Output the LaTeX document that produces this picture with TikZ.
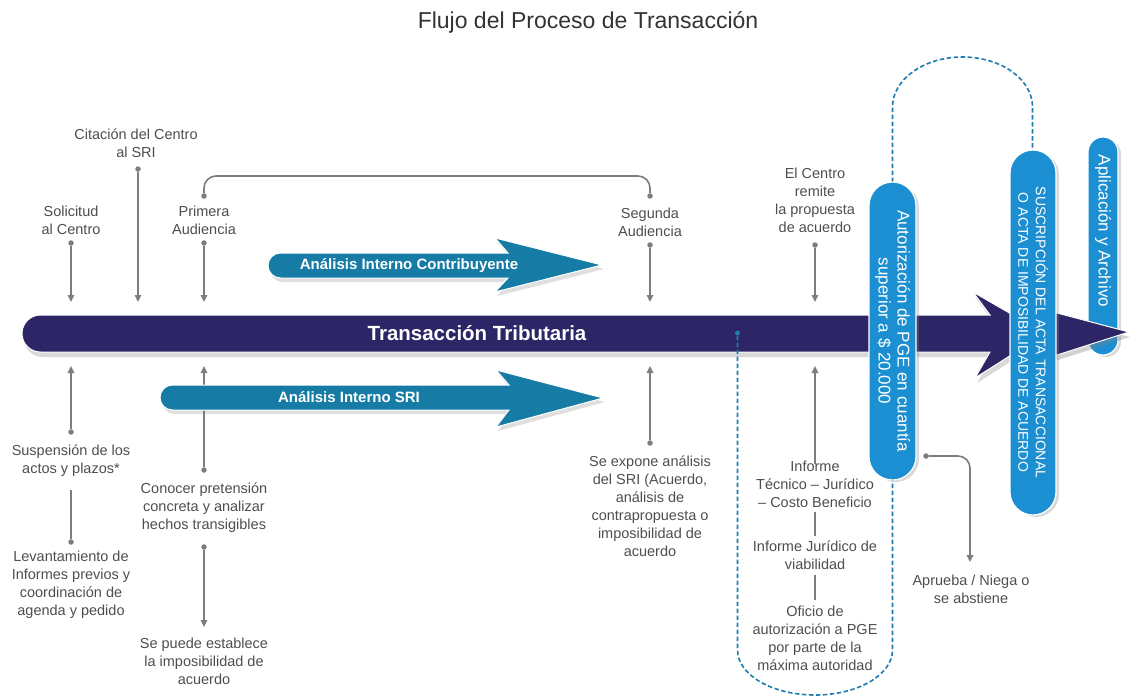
\documentclass[tikz,border=0pt]{standalone}
\usepackage{fontspec}
\setmainfont{Liberation Sans}
\usetikzlibrary{arrows.meta,shadows,shapes.misc}
\definecolor{cNavy}{RGB}{45,38,102}
\definecolor{cTeal}{RGB}{22,124,165}
\definecolor{cPill}{RGB}{27,143,210}
\definecolor{cLine}{RGB}{125,125,125}
\definecolor{cText}{RGB}{78,78,78}
\definecolor{cDash}{RGB}{30,125,175}
\begin{document}
\begin{tikzpicture}[x=1pt,y=1pt,
  lbl/.style={font=\fontsize{14.5}{18}\selectfont, text=cText, align=center, inner sep=0pt},
  conn/.style={draw=cLine, line width=1.6pt},
  arr/.style={conn, -{Triangle[length=7pt,width=6.5pt]}},
  dotc/.style={fill=cLine, circle, inner sep=0pt, minimum size=5.5pt},
  pillbase/.style={rounded rectangle, fill=cPill, draw=white, line width=1.2pt, text=white, inner sep=0pt, rotate=-90,
     drop shadow={opacity=0.3, shadow xshift=3pt, shadow yshift=-2pt}},
  pill/.style={pillbase, align=center},
  bandarrow/.style={fill=cTeal, draw=white, line width=1pt, drop shadow={opacity=0.25, shadow xshift=2pt, shadow yshift=-4pt}},
  bandlbl/.style={font=\bfseries\fontsize{15}{17}\selectfont, text=white, inner sep=0pt},
  dashl/.style={draw=cDash, line width=1.6pt, dash pattern=on 4.5pt off 2.5pt}]

\useasboundingbox (0,0) rectangle (1129,-699);

% title
\node[font=\fontsize{23}{26}\selectfont, text=black!80] (title) at (588,-22) {Flujo del Proceso de Transacción};

% ---------- upper labels ----------
\node[lbl] (solic) at (71,-220) {Solicitud\\al Centro};
\node[lbl] (cita) at (136,-143) {Citación del Centro\\al SRI};
\node[lbl] (prim) at (204,-220) {Primera\\Audiencia};
\node[lbl] (segu) at (650,-222) {Segunda\\Audiencia};
\node[lbl] (remite) at (815,-200) {El Centro\\remite\\la propuesta\\de acuerdo};

\node[dotc] (dsol) at (71,-243) {};
\node[dotc] (dcit) at (138,-169) {};
\node[dotc] (dpri) at (204,-243) {};
\node[dotc] (dpri2) at (204,-196) {};
\node[dotc] (dseg) at (650,-245) {};
\node[dotc] (dseg2) at (650,-196) {};
\node[dotc] (drem) at (815,-245) {};

\coordinate (esol) at (71,-302);
\coordinate (ecit) at (138,-302);
\coordinate (epri) at (204,-302);
\coordinate (eseg) at (650,-302);
\coordinate (erem) at (815,-302);

\draw[arr] (dsol) -- (esol);
\draw[arr] (dcit) -- (ecit);
\draw[arr] (dpri) -- (epri);
\draw[arr] (dseg) -- (eseg);
\draw[arr] (drem) -- (erem);
\draw[conn, rounded corners=12pt] (dpri2) -- ++(0,20) -| (dseg2);

% ---------- lower labels ----------
\node[lbl] (susp) at (71,-461) {Suspensión de los\\actos y plazos*};
\node[lbl] (levan) at (71,-585) {Levantamiento de\\Informes previos y\\coordinación de\\agenda y pedido};
\node[lbl] (conoc) at (204,-508) {Conocer pretensión\\concreta y analizar\\hechos transigibles};
\node[lbl] (puede) at (204,-661) {Se puede establece\\la imposibilidad de\\acuerdo};
\node[lbl] (expone) at (650,-506) {Se expone análisis\\del SRI (Acuerdo,\\análisis de\\contrapropuesta o\\imposibilidad de\\acuerdo};
\node[lbl] (inf1) at (815,-484) {Informe\\Técnico – Jurídico\\– Costo Beneficio};
\node[lbl] (inf2) at (815,-555) {Informe Jurídico de\\viabilidad};
\node[lbl] (ofic) at (815,-638) {Oficio de\\autorización a PGE\\por parte de la\\máxima autoridad};
\node[lbl] (aprueba) at (971,-589) {Aprueba / Niega o\\se abstiene};

\node[dotc] (dsus) at (71,-432) {};
\node[dotc] (dlev) at (71,-542) {};
\node[dotc] (dcon) at (204,-470) {};
\node[dotc] (dpue) at (204,-547) {};
\node[dotc] (dexp) at (650,-443) {};
\node[dotc] (dapr) at (926,-456) {};

\coordinate (esus) at (71,-366);
\coordinate (econ) at (204,-366);
\coordinate (epue) at (204,-627);
\coordinate (eexp) at (650,-366);
\coordinate (einf) at (815,-366);
\coordinate (eapr) at (970,-562);

\draw[arr] (dsus) -- (esus);
\draw[conn] ([yshift=-13pt]susp.south) -- (dlev);
\draw[arr] (dcon) -- (econ);
\draw[arr] (dpue) -- (epue);
\draw[arr] (dexp) -- (eexp);
\draw[arr] ([yshift=-4pt]inf1.north) -- (einf);
\draw[conn, shorten <=4pt, shorten >=4pt] (inf1.south) -- (inf2.north);
\draw[conn, shorten <=5pt, shorten >=5pt] (inf2.south) -- (ofic.north);
\draw[arr, rounded corners=12pt] (dapr) -| (eapr);

% ---------- Aplicación pill (behind the bar) ----------
\node[pillbase, minimum width=218pt, minimum height=30pt, font=\fontsize{17}{19}\selectfont] (apl) at (1103,-246) {\hbox{Aplicación y Archivo\kern30pt}};

% ---------- main bar ----------
\path[fill=cNavy, draw=white, line width=1pt, drop shadow={opacity=0.3, shadow xshift=2pt, shadow yshift=-5pt}]
  (40.5,-315) -- (990,-315) -- (973,-292) -- (1045,-333.5) -- (975,-378) -- (990,-352) -- (40.5,-352) arc (270:90:18.5) -- cycle;
\path[fill=cNavy, draw=white, line width=1pt, drop shadow={opacity=0.35, shadow xshift=1pt, shadow yshift=-5pt}]
  (1045,-313) -- (1057,-313) -- (1129,-332) -- (1057,-355) -- (1045,-355) -- cycle;
\node[font=\bfseries\fontsize{20.5}{22}\selectfont, text=white, inner sep=0pt] (tt) at (477,-333) {Transacción Tributaria};

% ---------- analysis arrows ----------
\path[bandarrow] (280.5,-253) -- (508,-253) -- (495,-238) -- (602,-265) -- (495,-292) -- (508,-278) -- (280.5,-278) arc (270:90:12.5) -- cycle;
\node[bandlbl] (aic) at (409,-266) {Análisis Interno Contribuyente};
\path[bandarrow] (172.5,-385) -- (509,-385) -- (496,-370) -- (603,-398) -- (496,-427) -- (509,-410) -- (172.5,-410) arc (270:90:12.5) -- cycle;
\node[bandlbl] (ais) at (349,-397) {Análisis Interno SRI};

% ---------- dashed loops ----------
\node[circle, fill=cDash, inner sep=0pt, minimum size=5pt] (bd) at (737.5,-333) {};
\coordinate (autbot) at (892.5,-480);
\coordinate (auttop) at (892.5,-182);
\coordinate (sustop) at (1032.5,-150);
\draw[dashl] (bd) -- (737.5,-650) arc (180:360:77.5 and 45) -- (autbot);
\draw[dashl] (auttop) -- (892.5,-107) arc (180:0:70 and 50) -- (sustop);

% ---------- pills ----------
\node[pill, minimum width=298pt, minimum height=47pt, font=\fontsize{17}{19}\selectfont] (aut) at (892.5,-331) {Autorización de PGE en cuantía\\superior a \$ 20.000};
\node[pill, minimum width=365pt, minimum height=46pt, font=\fontsize{14}{17.5}\selectfont] (sus) at (1033,-332.5) {SUSCRIPCIÓN DEL ACTA TRANSACCIONAL\\O ACTA DE IMPOSIBILIDAD DE ACUERDO};

\end{tikzpicture}
\end{document}
